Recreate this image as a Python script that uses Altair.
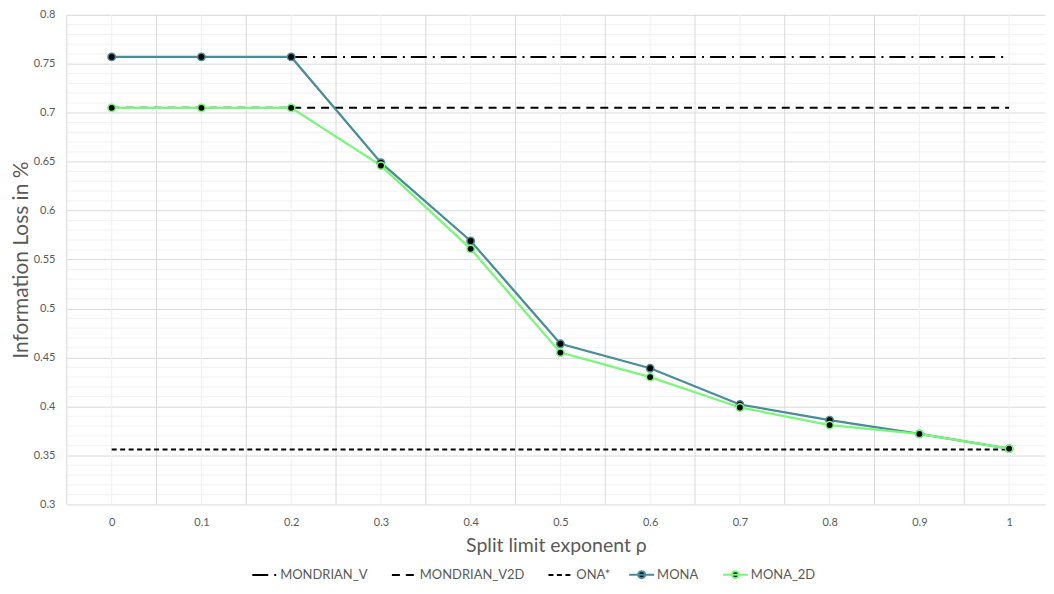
import altair as alt
import pandas as pd

# ---- data ----
rho = [0.0, 0.1, 0.2, 0.3, 0.4, 0.5, 0.6, 0.7, 0.8, 0.9, 1.0]
mona = [0.757, 0.757, 0.757, 0.649, 0.569, 0.464, 0.439, 0.402, 0.386, 0.372, 0.357]
mona_2d = [0.705, 0.705, 0.705, 0.646, 0.561, 0.455, 0.430, 0.399, 0.381, 0.372, 0.357]
mondrian_v = [0.757, 0.757]      # horizontal reference line (rho 0 .. 1)
mondrian_v2d = [0.705, 0.705]
ona_star = [0.356, 0.356]
ref_x = [0.0, 1.0]

ref_series = ["MONDRIAN_V", "MONDRIAN_V2D", "ONA*"]
ref_dashes = [[16, 6, 2, 6], [8, 6], [5, 3.5]]
mona_series = ["MONA", "MONA_2D"]
mona_colors = ["#4a8c98", "#78f878"]

y_ticks = [0.3, 0.35, 0.4, 0.45, 0.5, 0.55, 0.6, 0.65, 0.7, 0.75, 0.8]
y_minor = [round(0.3 + 0.01 * i, 2) for i in range(1, 50) if i % 5 != 0]
x_major = [-0.05, 0.05, 0.15, 0.25, 0.35, 0.45, 0.55, 0.65, 0.75, 0.85, 0.95]
x_minor = rho

FONT = "Lato"
GREY = "#595959"

ref_rows = []
for name, ys in zip(ref_series, [mondrian_v, mondrian_v2d, ona_star]):
    for x, y in zip(ref_x, ys):
        ref_rows.append({"series": name, "rho": x, "value": y})
df_ref = pd.DataFrame(ref_rows)

mona_rows = []
for name, ys in zip(mona_series, [mona, mona_2d]):
    for x, y in zip(rho, ys):
        mona_rows.append({"series": name, "rho": x, "value": y})
df_mona = pd.DataFrame(mona_rows)

xscale = alt.Scale(domain=[-0.05, 1.04], nice=False, zero=False)
yscale = alt.Scale(domain=[0.3, 0.8], nice=False, zero=False)

xaxis = alt.Axis(values=rho, format="~g", grid=False, domain=False, ticks=False, tickSize=0,
                 labelPadding=12, labelFont=FONT, labelFontSize=11, labelColor=GREY,
                 title="Split limit exponent ρ", titleFont=FONT, titleFontSize=19.5,
                 titleFontWeight="normal", titleColor=GREY, titlePadding=9)
yaxis = alt.Axis(values=y_ticks, format="~g", grid=True, gridColor="#d9d9d9", gridWidth=1,
                 domain=False, ticks=False, tickSize=0, labelPadding=12,
                 labelFont=FONT, labelFontSize=11, labelColor=GREY,
                 title="Information Loss in %", titleFont=FONT, titleFontSize=21,
                 titleFontWeight="normal", titleColor=GREY, titlePadding=2)

leg_common = dict(title=None, orient="none", legendY=548, direction="horizontal",
                  labelFont=FONT, labelFontSize=13, labelColor=GREY, symbolSize=625,
                  symbolStrokeWidth=2, labelOffset=2, columnPadding=20, padding=0)
leg_ref = alt.Legend(legendX=185, symbolType="stroke", symbolStrokeColor="#000000", **leg_common)
leg_mona = alt.Legend(legendX=563,
                      symbolType="M-1,0H1M0.28,0A0.28,0.28 0 1,1 -0.28,0A0.28,0.28 0 1,1 0.28,0",
                      symbolFillColor="#000000", **leg_common)

minor_y = alt.Chart(pd.DataFrame({"v": y_minor})).mark_rule(color="#f2f2f2", strokeWidth=1).encode(
    y=alt.Y("v:Q", scale=yscale, axis=yaxis))
minor_x = alt.Chart(pd.DataFrame({"v": x_minor})).mark_rule(color="#f0f0f0", strokeWidth=1).encode(
    x=alt.X("v:Q", scale=xscale, axis=xaxis))
major_x = alt.Chart(pd.DataFrame({"v": x_major})).mark_rule(color="#d9d9d9", strokeWidth=1).encode(
    x=alt.X("v:Q", scale=xscale, axis=xaxis))

ref_lines = alt.Chart(df_ref).mark_line(strokeWidth=2, color="#000000").encode(
    x=alt.X("rho:Q", scale=xscale, axis=xaxis),
    y=alt.Y("value:Q", scale=yscale, axis=yaxis),
    strokeDash=alt.StrokeDash("series:N", scale=alt.Scale(domain=ref_series, range=ref_dashes),
                              legend=leg_ref),
)

mona_lines = alt.Chart(df_mona).mark_line(strokeWidth=2.25).encode(
    x=alt.X("rho:Q", scale=xscale, axis=xaxis),
    y=alt.Y("value:Q", scale=yscale, axis=yaxis),
    color=alt.Color("series:N", scale=alt.Scale(domain=mona_series, range=mona_colors),
                    legend=leg_mona),
)

points = alt.Chart(df_mona).mark_point(filled=True, fill="#000000", size=55, strokeWidth=1.5,
                                       opacity=1, fillOpacity=1, strokeOpacity=1).encode(
    x=alt.X("rho:Q", scale=xscale, axis=xaxis),
    y=alt.Y("value:Q", scale=yscale, axis=yaxis),
    stroke=alt.Stroke("series:N", scale=alt.Scale(domain=mona_series, range=mona_colors),
                      legend=None),
)

chart = alt.layer(minor_y, minor_x, major_x, ref_lines, mona_lines, points).properties(
    width=981, height=491,
    padding={"left": 2, "top": 0, "right": 0, "bottom": 0},
    background="#ffffff",
).configure_view(stroke=None)

chart.save("out.html", embed_options={"renderer": "svg", "actions": False})
